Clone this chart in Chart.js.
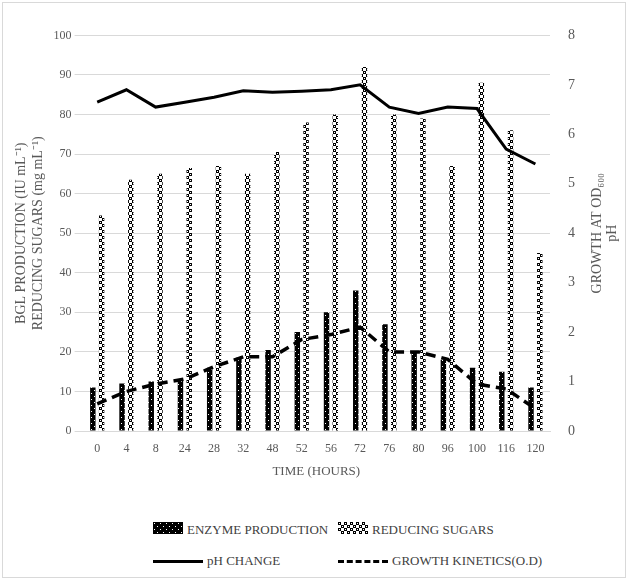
<!DOCTYPE html><html><head><script src="https://cdn.jsdelivr.net/npm/chart.js@4"></script>
<style>body{margin:0;background:#fff;font-family:"Liberation Serif",serif}
#w{position:absolute;left:2px;top:2px;width:622px;height:574px;border:1px solid #d9d9d9}
#c{position:absolute;left:0;top:14px;width:622px;height:466px}
.lg{position:absolute;font-size:13px;color:#404040;display:flex;align-items:center}
.lg span.b{display:inline-block;margin-right:4px}
</style></head><body><div id="w"><div id="c"><canvas id="ch"></canvas></div>
<div class="lg" style="left:150px;top:519px"><span class="b" id="l1"></span>ENZYME PRODUCTION</div>
<div class="lg" style="left:335px;top:519px"><span class="b" id="l2"></span>REDUCING SUGARS</div>
<div class="lg" style="left:150px;top:550px"><span class="b" style="width:50px;border-top:3px solid #000"></span>pH CHANGE</div>
<div class="lg" style="left:335px;top:550px"><span class="b" style="width:50px;border-top:3px dashed #000"></span>GROWTH KINETICS(O.D)</div>
</div>
<script>
const categories=["0","4","8","24","28","32","48","52","56","72","76","80","96","100","116","120"];
const enzyme=[11,12,12.5,13,16,18.5,20.5,25,30,35.5,27,20,18,16,15,11];
const sugars=[54.5,63.5,65,66.5,67,65,70.5,78,80,92,80,79,67,88,76,45];
const ph=[6.65,6.9,6.55,6.65,6.75,6.88,6.85,6.87,6.9,7.0,6.55,6.42,6.55,6.52,5.7,5.4];
const growth=[0.55,0.8,0.95,1.05,1.3,1.5,1.5,1.85,1.95,2.1,1.6,1.6,1.45,0.95,0.85,0.45];
function pat(kind){const c=document.createElement('canvas');c.width=6;c.height=6;const x=c.getContext('2d');
 if(kind==='e'){x.fillStyle='#000';x.fillRect(0,0,6,6);x.fillStyle='#fff';x.fillRect(1,1,1,1);x.fillRect(4,4,1,1);}
 else{x.fillStyle='#fff';x.fillRect(0,0,6,6);x.fillStyle='#000';x.fillRect(0,0,3,3);x.fillRect(3,3,3,3);x.fillStyle='#fff';x.fillRect(1,1,1,1);x.fillRect(4,4,1,1);}
 return document.createElement('canvas').getContext('2d').createPattern(c,'repeat');}
const pe=pat('e'),ps=pat('s');
function sw(id,p){const c=document.createElement('canvas');c.width=30;c.height=12;const x=c.getContext('2d');x.fillStyle=p;x.fillRect(0,0,30,12);document.getElementById(id).appendChild(c);}
sw('l1',pe);sw('l2',ps);
const F="'Liberation Serif',serif";
const rt={id:'rt',afterDraw(ch){const a=ch.scales.y1,x=ch.ctx;x.save();x.fillStyle='#595959';x.font="14px "+F;x.textAlign='center';
 const cy=(a.top+a.bottom)/2;x.translate(a.right+34,cy);x.rotate(-Math.PI/2);x.textBaseline='bottom';
 x.fillText('pH',0,0);x.fillText('GROWTH AT OD₆₀₀',0,-15);x.restore();}};
new Chart(document.getElementById('ch'),{data:{labels:categories,datasets:[
{type:'line',label:'pH CHANGE',data:ph,yAxisID:'y1',borderColor:'#000',borderWidth:3,pointRadius:0,tension:0},
{type:'line',label:'GROWTH KINETICS(O.D)',data:growth,yAxisID:'y1',borderColor:'#000',borderWidth:3.5,borderDash:[10,6],pointRadius:0,tension:0},
{type:'bar',label:'ENZYME PRODUCTION',data:enzyme,yAxisID:'y',backgroundColor:pe,barPercentage:0.62,categoryPercentage:0.6},
{type:'bar',label:'REDUCING SUGARS',data:sugars,yAxisID:'y',backgroundColor:ps,barPercentage:0.62,categoryPercentage:0.6}]},
plugins:[rt],
options:{responsive:true,maintainAspectRatio:false,animation:false,layout:{padding:{right:40,top:10,left:6}},
plugins:{legend:{display:false},tooltip:{enabled:false}},
scales:{x:{grid:{display:false},border:{color:'#d9d9d9'},ticks:{color:'#595959',font:{family:F,size:12}},title:{display:true,text:'TIME (HOURS)',color:'#595959',font:{family:F,size:13}}},
y:{position:'left',min:0,max:100,ticks:{stepSize:10,color:'#595959',font:{family:F,size:12}},grid:{color:'#d9d9d9'},border:{display:false},
 title:{display:true,text:['BGL PRODUCTION (IU mL⁻¹)','REDUCING SUGARS (mg mL⁻¹)'],color:'#595959',font:{family:F,size:14}}},
y1:{position:'right',min:0,max:8,ticks:{stepSize:1,padding:10,color:'#595959',font:{family:F,size:14}},grid:{display:false},border:{display:false}}}}});
</script></body></html>
